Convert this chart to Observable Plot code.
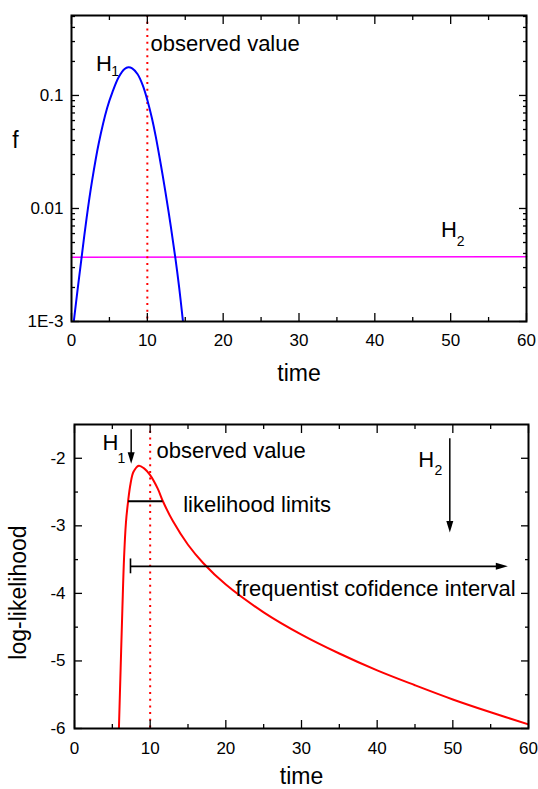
<!DOCTYPE html>
<html><head><meta charset="utf-8">
<script src="https://cdn.jsdelivr.net/npm/d3@7"></script>
<script src="https://cdn.jsdelivr.net/npm/@observablehq/plot@0.6"></script>
<style>
body{margin:0;background:#fff;}
#chart{width:538px;}
#chart svg{display:block;}
</style></head><body><div id="chart"></div>
<script>
// ---------- data: top panel (density f on log scale) ----------
const h1Time = [0.3, 0.8, 1.3, 2.0, 2.7, 3.6, 4.7, 5.4, 6.2, 7.0, 7.5, 8.0, 8.7, 9.4, 10.0, 10.6, 11.1, 11.8, 12.4, 13.1, 13.7, 14.2, 14.7];
const h1F    = [0.001, 0.001905, 0.003548, 0.008318, 0.01738, 0.03802, 0.07762, 0.1072, 0.1445, 0.1718, 0.1778, 0.1738, 0.1549, 0.1230, 0.0912, 0.0631, 0.04365, 0.02399, 0.0138, 0.006918, 0.003631, 0.001995, 0.001];
const h2Time = [0, 60];
const h2F    = [0.0037, 0.00375];
const observedTime = [10];

// ---------- data: bottom panel (log-likelihood) ----------
const llTime  = [5.87, 6.1, 6.33, 6.55, 6.8, 7.08, 7.4, 7.8, 8.5, 9.2, 10.0, 11.0, 11.7, 13.0, 15.0, 17.0, 20.0, 25.0, 30.0, 35.0, 40.0, 45.0, 50.0, 55.0, 60.0];
const llValue = [-6.0, -5.1, -4.22, -3.47, -2.95, -2.64, -2.38, -2.20, -2.11, -2.15, -2.25, -2.45, -2.64, -2.93, -3.28, -3.55, -3.87, -4.28, -4.61, -4.89, -5.14, -5.36, -5.57, -5.76, -5.94];
const likelihoodLimits = [{from: 7.15, to: 11.7, level: -2.635}];
const freqInterval = [{from: 7.4, to: 57.27, level: -3.6, cap: 0.11}];
const hypArrows = [{t: 7.49, from: -1.578, to: -2.081}, {t: 49.6, from: -1.712, to: -3.097}];

// ---------- ticks ----------
const xMajorTicks = [0, 10, 20, 30, 40, 50, 60];
const xMinorTicks = [5, 15, 25, 35, 45, 55];
const topYTicks = [0.001, 0.01, 0.1];
const topYTickLabels = ["1E-3", "0.01", "0.1"];
const topYMinorTicks = [0.002, 0.003, 0.004, 0.005, 0.006, 0.007, 0.008, 0.009,
  0.02, 0.03, 0.04, 0.05, 0.06, 0.07, 0.08, 0.09, 0.2, 0.3, 0.4, 0.5];
const bottomYTicks = [-6, -5, -4, -3, -2];
const bottomYMinorTicks = [-5.5, -4.5, -3.5, -2.5];

// ---------- annotations (data coordinates) ----------
const topNotesMid = [
  {label: "H", t: 4.29, v: 0.19, size: 22},
  {label: "1", t: 5.74, v: 0.163, size: 14},
  {label: "H", t: 49.76, v: 0.00646, size: 22},
  {label: "2", t: 51.3, v: 0.0051, size: 14}
];
const topNotesStart = [{label: "observed value", t: 10.42, v: 0.287, size: 22}];
const bottomNotesMid = [
  {label: "H", t: 4.76, v: -1.766, size: 22},
  {label: "1", t: 6.21, v: -2.003, size: 14},
  {label: "H", t: 46.49, v: -2.021, size: 22},
  {label: "2", t: 48.1, v: -2.181, size: 14}
];
const bottomNotesStart = [
  {label: "observed value", t: 10.84, v: -1.885, size: 22},
  {label: "likelihood limits", t: 14.36, v: -2.69, size: 22},
  {label: "frequentist cofidence interval", t: 21.28, v: -3.932, size: 22}
];

const font = "'Liberation Sans', Arial, Helvetica, sans-serif";
const MAJ = 8, MIN = 4;

function inTicks(dim, anchor, values, size) {
  const o = {anchor, ticks: values, tickSize: size, fill: "none", label: null, stroke: "black", strokeWidth: 1.3};
  if (anchor === "bottom") o.dy = -size;
  if (anchor === "top") o.dy = size;
  if (anchor === "left") o.dx = size;
  if (anchor === "right") o.dx = -size;
  return dim === "x" ? Plot.axisX(o) : Plot.axisY(o);
}
function allTicks(yMajor, yMinor) {
  return [
    inTicks("x", "bottom", xMajorTicks, MAJ), inTicks("x", "bottom", xMinorTicks, MIN),
    inTicks("x", "top", xMajorTicks, MAJ), inTicks("x", "top", xMinorTicks, MIN),
    inTicks("y", "left", yMajor, MAJ), inTicks("y", "left", yMinor, MIN),
    inTicks("y", "right", yMajor, MAJ), inTicks("y", "right", yMinor, MIN)
  ];
}
const arrowDown = {draw(ctx) { ctx.moveTo(0, 0); ctx.lineTo(-3.5, -11.5); ctx.lineTo(3.5, -11.5); ctx.closePath(); }};
const arrowRight = {draw(ctx) { ctx.moveTo(0, 0); ctx.lineTo(-12, -3.5); ctx.lineTo(-12, 3.5); ctx.closePath(); }};

const h1 = h1Time.map((t, i) => ({t, f: h1F[i]}));
const h2 = h2Time.map((t, i) => ({t, f: h2F[i]}));
const ll = llTime.map((t, i) => ({t, v: llValue[i]}));

const topPanel = Plot.plot({
  width: 538, height: 395,
  marginLeft: 71, marginRight: 12, marginTop: 15, marginBottom: 74,
  style: {fontFamily: font, fontSize: "17px", color: "black", background: "white"},
  x: {domain: [0, 60]},
  y: {type: "log", domain: [0.001, 0.51]},
  marks: [
    Plot.line(h2, {x: "t", y: "f", stroke: "#ff00ff", strokeWidth: 1.5}),
    Plot.ruleX(observedTime, {stroke: "red", strokeWidth: 2, strokeDasharray: "2,4.7"}),
    Plot.line(h1, {x: "t", y: "f", stroke: "#0000ff", strokeWidth: 2, curve: "catmull-rom", clip: true}),
    Plot.frame({stroke: "black", strokeWidth: 2}),
    ...allTicks(topYTicks, topYMinorTicks),
    Plot.axisX({anchor: "bottom", ticks: xMajorTicks, tickSize: 0, tickPadding: 12, label: null}),
    Plot.axisY({anchor: "left", ticks: topYTicks, tickSize: 0, tickPadding: 8, label: null,
      tickFormat: d => topYTickLabels[topYTicks.indexOf(d)]}),
    Plot.text(topNotesMid, {x: "t", y: "v", text: "label", fontSize: "size", textAnchor: "middle", lineAnchor: "middle", fill: "black"}),
    Plot.text(topNotesStart, {x: "t", y: "v", text: "label", fontSize: "size", textAnchor: "start", lineAnchor: "middle", fill: "black"}),
    Plot.text(["time"], {text: d => d, frameAnchor: "bottom", dy: 52, fontSize: 23, lineAnchor: "middle", fill: "black"}),
    Plot.text(["f"], {text: d => d, frameAnchor: "left", dx: -56, dy: -28, fontSize: 23, textAnchor: "middle", lineAnchor: "middle", fill: "black"})
  ]
});

const bottomPanel = Plot.plot({
  width: 538, height: 394,
  marginLeft: 74, marginRight: 10, marginTop: 29, marginBottom: 61,
  style: {fontFamily: font, fontSize: "17px", color: "black", background: "white"},
  x: {domain: [0, 60]},
  y: {domain: [-6, -1.5]},
  marks: [
    Plot.ruleX(observedTime, {stroke: "red", strokeWidth: 2, strokeDasharray: "2,4.7"}),
    Plot.line(ll, {x: "t", y: "v", stroke: "red", strokeWidth: 2, curve: "catmull-rom", clip: true}),
    Plot.ruleY(likelihoodLimits, {x1: "from", x2: "to", y: "level", stroke: "black", strokeWidth: 2}),
    Plot.ruleY(freqInterval, {x1: "from", x2: d => d.to - 0.8, y: "level", stroke: "black", strokeWidth: 1.6}),
    Plot.ruleX(freqInterval, {x: "from", y1: d => d.level - d.cap, y2: d => d.level + d.cap, stroke: "black", strokeWidth: 1.6}),
    Plot.dot(freqInterval, {x: "to", y: "level", symbol: arrowRight, fill: "black", stroke: "none"}),
    Plot.ruleX(hypArrows, {x: "t", y1: "from", y2: d => d.to + 0.1, stroke: "black", strokeWidth: 1.5}),
    Plot.dot(hypArrows, {x: "t", y: "to", symbol: arrowDown, fill: "black", stroke: "none"}),
    Plot.frame({stroke: "black", strokeWidth: 2}),
    ...allTicks(bottomYTicks, bottomYMinorTicks),
    Plot.axisX({anchor: "bottom", ticks: xMajorTicks, tickSize: 0, tickPadding: 13, label: null}),
    Plot.axisY({anchor: "left", ticks: bottomYTicks, tickSize: 0, tickPadding: 9, label: null, tickFormat: d => String(d)}),
    Plot.text(bottomNotesMid, {x: "t", y: "v", text: "label", fontSize: "size", textAnchor: "middle", lineAnchor: "middle", fill: "black"}),
    Plot.text(bottomNotesStart, {x: "t", y: "v", text: "label", fontSize: "size", textAnchor: "start", lineAnchor: "middle", fill: "black"}),
    Plot.text(["time"], {text: d => d, frameAnchor: "bottom", dy: 48, fontSize: 23, lineAnchor: "middle", fill: "black"}),
    Plot.text(["log-likelihood"], {text: d => d, frameAnchor: "left", dx: -56, dy: 16, rotate: -90, fontSize: 23, textAnchor: "middle", lineAnchor: "middle", fill: "black"})
  ]
});

document.getElementById("chart").append(topPanel, bottomPanel);
</script>
</body></html>
